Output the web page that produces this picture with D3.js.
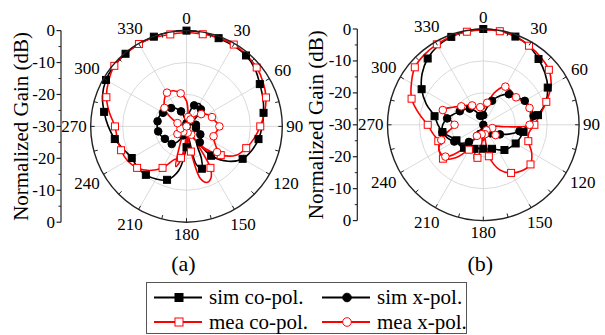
<!DOCTYPE html>
<html>
<head>
<meta charset="utf-8">
<script src="https://cdn.jsdelivr.net/npm/d3@7"></script>
<style>
  body { margin: 0; background: #fff; }
  svg { display: block; }
  svg text { font-family: "Liberation Serif", "Times New Roman", Times, serif; }
</style>
</head>
<body>
<svg id="chart" width="605" height="335"></svg>
<script>
// [angle in degrees, normalized gain in dB]
const simCoA = [[0,0],[10,-0.2],[20,-0.6],[30,-0.8],[40,-1.0],[50,-2.0],[60,-3.5],[70,-4.5],[80,-5.5],[90,-6.3],
  [100,-7.1],[110,-8.2],[120,-9.7],[130,-13],[140,-18],[148,-24],[155,-19],[160,-15.9],[166,-18],[172,-27],
  [180,-23.5],[190,-16],[200,-12.2],[210,-11],[220,-10.2],[230,-10],[240,-10.2],[250,-9],[260,-7.2],[270,-5.5],
  [280,-3.8],[290,-2],[300,-0.9],[310,-0.5],[320,-0.3],[330,-0.2],[340,-0.1],[350,0]];
const meaCoA = [[0,-0.6],[10,-0.7],[20,-0.5],[30,-0.4],[40,-0.8],[50,-1.3],[60,-2.3],[70,-3.5],[80,-5.2],[90,-6.9],
  [100,-8.5],[110,-10.1],[120,-12],[130,-16],[140,-21],[146,-25],[150,-15],[155,-12],[160,-11.3],[165,-13],
  [170,-22],[175,-30],[180,-30],[185,-24],[190,-20],[195,-19.5],[200,-19],[210,-15],[220,-12],[230,-9.8],
  [240,-8.6],[250,-8.2],[260,-8],[270,-7.6],[280,-5.5],[290,-3.3],[300,-1.8],[310,-0.5],[320,-0.3],[330,-0.2],
  [340,-0.4],[350,-0.75]];
const simXA = [[0,-29],[10,-26],[20,-23],[30,-21.8],[40,-23],[50,-27],[60,-30],[70,-28],[80,-27],[90,-27.5],
  [100,-27],[110,-26],[120,-25],[130,-24],[140,-23.5],[150,-26],[160,-30],[170,-30],[180,-30],[190,-29],
  [200,-27],[210,-24.5],[220,-22.8],[230,-22.6],[240,-22.2],[250,-21.5],[260,-21],[270,-20.8],[280,-20.8],
  [290,-20.9],[300,-21.5],[310,-22],[320,-22.5],[330,-23.5],[340,-25],[350,-28]];
const meaXA = [[0,-22],[10,-27],[20,-28.5],[30,-27.5],[40,-26],[50,-24],[60,-22.5],[70,-21.5],[80,-20.8],[90,-19.7],
  [100,-20.5],[110,-21],[120,-19.8],[130,-17.5],[140,-20],[150,-27],[160,-30],[170,-28],[180,-25],[188,-20],
  [195,-17],[200,-24],[210,-28],[220,-27.5],[230,-26.3],[240,-26.5],[250,-28],[260,-30],[270,-30],[280,-29],
  [290,-27],[300,-24],[310,-21],[320,-19.2],[330,-17.8],[340,-18.1],[350,-19.5]];

const simCoB = [[0,0],[10,-0.2],[20,-0.6],[30,-1.5],[40,-3.1],[50,-4.8],[60,-6.7],[70,-9.2],[80,-12.6],[90,-16.3],
  [100,-17.2],[110,-17.8],[120,-18.3],[130,-19],[140,-19.7],[150,-21],[160,-22],[170,-22.3],[180,-22.5],[190,-22.5],
  [200,-22],[210,-21.3],[220,-20.6],[230,-20.2],[240,-20.3],[250,-19],[260,-17],[270,-15.8],[280,-14.5],[290,-11],
  [300,-7.7],[310,-5],[320,-2.9],[330,-1.5],[340,-0.7],[350,-0.2]];
const meaCoB = [[0,-0.3],[10,-0.25],[20,-0.6],[30,-1.4],[40,-2.2],[50,-3.2],[60,-5.5],[70,-9],[80,-12],[90,-14],
  [100,-15.5],[110,-15],[120,-12.5],[130,-10.7],[140,-11.2],[150,-12.6],[160,-15],[170,-20],[178,-28],[185,-24],
  [190,-19.5],[195,-19],[200,-23],[210,-21],[220,-16.5],[230,-13.5],[240,-14],[250,-15],[260,-14],[270,-12.6],
  [280,-9.5],[290,-6.1],[300,-4],[310,-2],[320,-1.3],[330,-0.9],[340,-0.6],[350,-0.4]];
const simXB = [[0,-27],[10,-25],[20,-22],[30,-19.5],[40,-17.5],[50,-16.5],[60,-15],[70,-14.3],[80,-14],[90,-15.5],
  [100,-18.5],[110,-21.5],[120,-24],[130,-25.5],[140,-26.5],[150,-27.5],[160,-28.5],[170,-29.5],[180,-30],[190,-28.5],
  [200,-27],[210,-25],[220,-23],[230,-21],[240,-19.5],[250,-18],[260,-17],[270,-17.3],[280,-18.5],[290,-20.2],
  [300,-21.5],[310,-22.5],[320,-23.4],[330,-25],[340,-27],[350,-28.5]];
const meaXB = [[0,-25],[10,-23],[20,-19],[30,-16.2],[40,-16.3],[50,-16.6],[60,-15.5],[70,-14.6],[80,-15],[90,-15.5],
  [95,-23],[100,-28],[110,-27],[120,-26],[130,-25],[140,-26],[150,-28],[160,-29],[170,-27],[180,-25],[190,-27],
  [200,-29],[210,-26],[220,-20],[230,-14.5],[240,-14],[250,-16],[260,-19],[270,-21],[280,-19],[290,-16.5],
  [300,-19],[310,-21],[320,-22],[330,-23],[340,-24.5],[350,-24.4]];

const angleTicks = d3.range(0, 360, 30);
const radialLabels = ['0', '-10', '-20', '-30', '-20', '-10', '0'];
const seriesNames = ['sim co-pol.', 'sim x-pol.', 'mea co-pol.', 'mea x-pol.'];

const svg = d3.select('#chart');
const R = 95.8;
const rScale = d3.scaleLinear().domain([-30, 0]).range([0, R]).clamp(true);

const styles = [
  { color: '#000', shape: 'square', fill: '#000', even: true },   // sim co
  { color: '#000', shape: 'circle', fill: '#000', even: true },   // sim x
  { color: '#f00', shape: 'square', fill: '#fff', even: false },  // mea co
  { color: '#f00', shape: 'circle', fill: '#fff', even: false }   // mea x
];

function drawMarker(g, shape, x, y, st, size) {
  if (shape === 'square') {
    g.append('rect').attr('x', x - size / 2).attr('y', y - size / 2)
      .attr('width', size).attr('height', size)
      .attr('fill', st.fill).attr('stroke', st.color).attr('stroke-width', 1);
  } else {
    g.append('circle').attr('cx', x).attr('cy', y).attr('r', size / 2 + 0.3)
      .attr('fill', st.fill).attr('stroke', st.color).attr('stroke-width', 1);
  }
}

function polarPlot(cx, cy, axisX, titleX, caption, series) {
  const g = svg.append('g').attr('transform', `translate(${cx},${cy})`);
  const rad = d => d * Math.PI / 180;

  // grid circles
  g.selectAll('.gc').data([-20, -10]).join('circle')
    .attr('r', d => rScale(d)).attr('fill', 'none')
    .attr('stroke', '#d0d0d0').attr('stroke-width', 0.8);
  // spokes
  g.selectAll('.sp').data(angleTicks).join('line')
    .attr('x1', 0).attr('y1', 0)
    .attr('x2', d => R * Math.sin(rad(d))).attr('y2', d => -R * Math.cos(rad(d)))
    .attr('stroke', '#d0d0d0').attr('stroke-width', 0.8);

  // curves
  const line = d3.lineRadial()
    .angle(d => rad(d[0]))
    .radius(d => rScale(d[1]))
    .curve(d3.curveCatmullRomClosed.alpha(0.5));

  series.forEach((data, i) => {
    const st = styles[i];
    g.append('path').datum(data).attr('d', line)
      .attr('fill', 'none').attr('stroke', st.color).attr('stroke-width', 1.6);
  });
  series.forEach((data, i) => {
    const st = styles[i];
    const mg = g.append('g');
    data.filter(d => d[0] % 10 === 0 && ((d[0] / 10) % 2 === 0) === st.even)
      .forEach(d => {
        const r = rScale(d[1]);
        drawMarker(mg, st.shape, r * Math.sin(rad(d[0])), -r * Math.cos(rad(d[0])), st, 7);
      });
  });

  // outer circle and rim ticks
  g.append('circle').attr('r', R).attr('fill', 'none')
    .attr('stroke', '#222').attr('stroke-width', 1.4);
  g.selectAll('.rt').data(d3.range(0, 360, 15)).join('line')
    .attr('x1', d => R * Math.sin(rad(d))).attr('y1', d => -R * Math.cos(rad(d)))
    .attr('x2', d => (R - 4) * Math.sin(rad(d))).attr('y2', d => -(R - 4) * Math.cos(rad(d)))
    .attr('stroke', '#222').attr('stroke-width', 1);

  // angle labels
  const labelPos = d => {
    const w = String(d).length * 8.5;
    const off = 4 + Math.abs(Math.sin(rad(d))) * w / 2 + Math.abs(Math.cos(rad(d))) * 8;
    return [(R + off) * Math.sin(rad(d)), -(R + off) * Math.cos(rad(d))];
  };
  g.selectAll('.al').data(angleTicks).join('text')
    .attr('font-size', 17)
    .attr('text-anchor', 'middle')
    .attr('dominant-baseline', 'central')
    .attr('x', d => labelPos(d)[0])
    .attr('y', d => labelPos(d)[1])
    .text(d => d);

  // radial axis on the left
  const yAx = d3.scaleLinear().domain([0, 6]).range([cy - R, cy + R]);
  const ax = svg.append('g');
  ax.append('line').attr('x1', axisX).attr('x2', axisX)
    .attr('y1', yAx(0)).attr('y2', yAx(6)).attr('stroke', '#222').attr('stroke-width', 1.2);
  ax.selectAll('.mt').data(d3.range(0, 6.01, 1)).join('line')
    .attr('x1', axisX - 4.5).attr('x2', axisX)
    .attr('y1', d => yAx(d)).attr('y2', d => yAx(d))
    .attr('stroke', '#222').attr('stroke-width', 1.2);
  ax.selectAll('.nt').data(d3.range(0.5, 6, 1)).join('line')
    .attr('x1', axisX - 2.5).attr('x2', axisX)
    .attr('y1', d => yAx(d)).attr('y2', d => yAx(d))
    .attr('stroke', '#222').attr('stroke-width', 1);
  ax.selectAll('.tl').data(radialLabels).join('text')
    .attr('x', axisX - 6).attr('y', (d, i) => yAx(i))
    .attr('text-anchor', 'end').attr('dominant-baseline', 'central')
    .attr('font-size', 17).text(d => d);

  svg.append('text')
    .attr('transform', `translate(${titleX},${cy}) rotate(-90)`)
    .attr('text-anchor', 'middle').attr('font-size', 21)
    .text('Normalized Gain (dB)');

  svg.append('text').attr('x', cx - 3).attr('y', 271)
    .attr('text-anchor', 'middle').attr('font-size', 22).text(caption);
}

polarPlot(186.5, 126.4, 61, 28, '(a)', [simCoA, simXA, meaCoA, meaXA]);
polarPlot(483.3, 124.8, 357.3, 323, '(b)', [simCoB, simXB, meaCoB, meaXB]);

// legend
const leg = svg.append('g');
leg.append('rect').attr('x', 146.5).attr('y', 282.5).attr('width', 320).attr('height', 51)
  .attr('fill', '#fff').attr('stroke', '#555').attr('stroke-width', 1);
seriesNames.forEach((name, k) => {
  const col = k % 2, row = Math.floor(k / 2);
  const x0 = 154 + col * 168, y0 = 297.5 + row * 24.5;
  const st = styles[k];
  leg.append('line').attr('x1', x0).attr('x2', x0 + 48).attr('y1', y0).attr('y2', y0)
    .attr('stroke', st.color).attr('stroke-width', 2.2);
  drawMarker(leg, st.shape, x0 + 25, y0, st, 8);
  leg.append('text').attr('x', x0 + 55).attr('y', y0 + 6.5)
    .attr('font-size', 21).text(name);
});
</script>
</body>
</html>
